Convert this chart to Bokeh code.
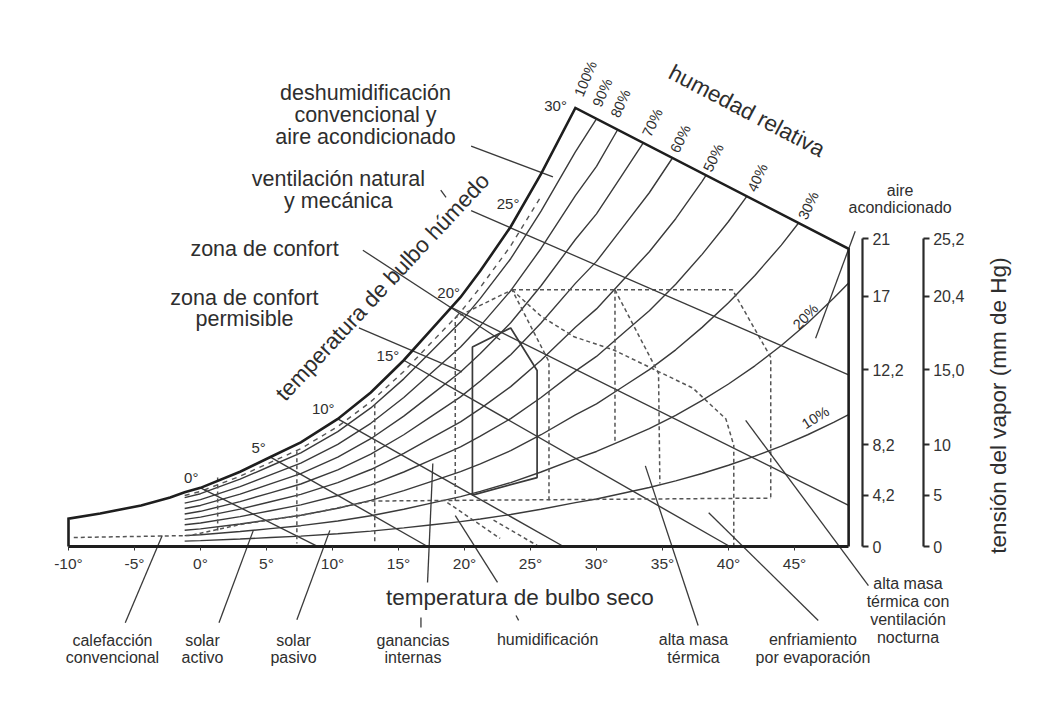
import numpy as np
from bokeh.plotting import figure
from bokeh.models import LinearAxis, FixedTicker, LabelSet, ColumnDataSource, Range1d
from bokeh.core.properties import value
from bokeh.embed import file_html
from bokeh.resources import INLINE

FONT = "Liberation Sans"
INK = "#2e2e2e"
GRID = "#3a3a3a"
DASH = "#555555"

# ---------------- data (dry bulb °C  /  vapour content, chart units) ----------------
sat_t = [-10, -7.6, -4.5, -2.3, -1.2, 0, 3, 5.3, 7.6, 10.4, 12.9, 15.4, 17.4, 19.7, 21.2, 23.5, 25.8, 28.4]
sat_h = [1.9, 2.25, 2.8, 3.34, 3.7, 4.0, 5.1, 6.1, 7.1, 8.7, 10.5, 12.7, 14.7, 17.0, 18.8, 21.8, 25.4, 29.9]
# saturation continued above the chart's upper edge (where the RH curves end on that edge)
sat_ext_t = [30, 32, 34, 36, 38, 40, 42, 44, 46, 48, 50]
sat_ext_h = [32.4, 36.3, 40.2, 44.7, 49.8, 55.4, 61.6, 68.5, 76.2, 84.8, 94.0]
rh_levels = [10, 20, 30, 40, 50, 60, 70, 80, 90]
rh_labels = ["10%", "20%", "30%", "40%", "50%", "60%", "70%", "80%", "90%", "100%"]
rh_start_t = -1.2
near_sat_level = 94
corner_t = 49.1
corner_h = 20.3

# wet-bulb lines (start on saturation curve -> end on chart edge)
wb_names = ["0°", "5°", "10°", "15°", "20°", "25°", "30°"]
wb_start_t = [0.0, 5.3, 10.4, 15.4, 19.0]
wb_start_h = [4.0, 6.1, 8.7, 12.7, 16.3]
wb_end_t = [8.9, 17.2, 27.5, 40.1, 49.1]
wb_end_h = [0.0, 0.0, 0.0, 0.0, 2.8]

# comfort zone (solid)
comfort_t = [20.6, 20.6, 23.5, 25.5, 25.5, 20.6]
comfort_h = [3.5, 13.6, 14.9, 12.0, 4.7, 3.5]

# dashed zone boundaries
perm_t = [19.3, 19.3, 23.6, 26.4, 26.4]
perm_h = [3.1, 15.6, 17.5, 12.6, 3.1]
outer_t = [23.6, 40.3, 43.2, 43.2]
outer_h = [17.5, 17.5, 12.9, 3.3]
lower_t = [-9.6, -0.8, 3.0, 8.1, 12.9, 43.2]
lower_h = [0.61, 0.75, 1.5, 2.2, 3.1, 3.3]
evap_t = [23.6, 25.8, 28.3, 31.3, 34.3, 37.3, 39.8, 40.4, 40.4]
evap_h = [17.5, 15.7, 14.3, 13.4, 12.1, 10.8, 8.7, 6.9, 0.0]
mass_t = [31.4, 34.7, 34.8]
mass_h = [17.5, 11.8, 4.3]
vdash_t = [31.4, 1.3, 7.3, 13.2]
vdash_top = [17.5, 4.7, 6.5, 9.7]
vdash_bot = [7.2, 0.9, 0.2, 0.2]
hum_t0 = [18.7, 22.2]
hum_h0 = [3.0, 1.8]
hum_t1 = [22.7, 25.5]
hum_h1 = [0.55, 0.07]

# leader lines of the annotations
lead_t0 = [20.5, 18.2, 20.5, 12.3, 12.0, 49.6, -5.7, 1.4, 7.3, 17.2, 16.7, 22.5, 23.9, 37.7, 46.8, 50.6]
lead_h0 = [27.3, 24.3, 22.9, 20.2, 14.9, 21.5, -5.2, -5.2, -5.0, -2.45, -4.84, -2.45, -4.7, -5.39, -5.04, -2.66]
lead_t1 = [26.7, 18.6, 49.1, 22.7, 19.8, 46.6, -2.9, 4.0, 9.8, 17.6, 16.7, 19.3, 24.1, 33.7, 38.5, 41.3]
lead_h1 = [25.2, 23.8, 11.7, 14.1, 11.9, 14.2, 0.75, 1.1, 1.1, 5.66, -5.52, 2.1, -5.04, 5.5, 2.3, 8.6]

x_ticks = [-10, -5, 0, 5, 10, 15, 20, 25, 30, 35, 40, 45]
x_tick_labels = ["-10°", "-5°", "0°", "5°", "10°", "15°", "20°", "25°", "30°", "35°", "40°", "45°"]
y_ticks = [0, 3.5, 6.95, 12.05, 17.05, 21]
gkg_labels = ["0", "4,2", "8,2", "12,2", "17", "21"]
mmhg_labels = ["0", "5", "10", "15,0", "20,4", "25,2"]
gkg_axis_t = 50.15
mmhg_axis_t = 54.75

# ---------------- derived curves ----------------
all_t = np.array(sat_t + sat_ext_t, dtype=float)
all_h = np.array(sat_h + sat_ext_h, dtype=float)
keep = all_t >= rh_start_t
ct, ch = all_t[keep], all_h[keep]
top_t0, top_h0 = sat_t[-1], sat_h[-1]


def top_edge(t):
    return top_h0 + (t - top_t0) * (corner_h - top_h0) / (corner_t - top_t0)


def rh_curve(frac, t_max=None):
    xs, ys = [ct[0]], [frac * ch[0]]
    for i in range(1, len(ct)):
        t0, t1 = ct[i - 1], ct[i]
        h0, h1 = frac * ch[i - 1], frac * ch[i]
        if t_max is not None and t1 > t_max:
            break
        if t1 >= top_t0 and h1 > top_edge(t1):
            d0, d1 = h0 - top_edge(t0), h1 - top_edge(t1)
            s = d0 / (d0 - d1)
            xs.append(t0 + s * (t1 - t0)); ys.append(h0 + s * (h1 - h0))
            return xs, ys
        if t1 > corner_t:
            s = (corner_t - t0) / (t1 - t0)
            xs.append(corner_t); ys.append(h0 + s * (h1 - h0))
            return xs, ys
        xs.append(t1); ys.append(h1)
    return xs, ys


rh_xs, rh_ys = [], []
for r in rh_levels:
    a, b = rh_curve(r / 100.0)
    rh_xs.append(a); rh_ys.append(b)
ns_x, ns_y = rh_curve(near_sat_level / 100.0, t_max=26.0)

# ---------------- figure ----------------
p = figure(width=1037, height=687,
           x_range=Range1d(-15.152, 63.409), y_range=Range1d(-9.613, 37.227),
           output_backend="svg", toolbar_location=None, y_axis_location=None,
           min_border=0)
p.outline_line_color = None
p.xgrid.visible = False
p.ygrid.visible = False
p.background_fill_color = "white"

# RH curves and near-saturation dashed curve
p.multi_line(rh_xs, rh_ys, line_color=GRID, line_width=1.4)
p.line(ns_x, ns_y, line_color=DASH, line_width=1.4, line_dash="5 5")

# wet bulb lines
p.segment(wb_start_t, wb_start_h, wb_end_t, wb_end_h, line_color=GRID, line_width=1.4)

# zones
p.line(comfort_t, comfort_h, line_color=GRID, line_width=1.7)
dash_x = [perm_t, outer_t, lower_t, evap_t, mass_t]
dash_y = [perm_h, outer_h, lower_h, evap_h, mass_h]
p.multi_line(dash_x, dash_y, line_color=DASH, line_width=1.5, line_dash="4 3")
p.segment(vdash_t, vdash_top, vdash_t, vdash_bot, line_color=DASH, line_width=1.5, line_dash="4 3")
p.segment(hum_t0, hum_h0, hum_t1, hum_h1, line_color=DASH, line_width=1.5, line_dash="4 3")

# leader lines
p.segment(lead_t0, lead_h0, lead_t1, lead_h1, line_color=GRID, line_width=1.3)

# chart boundary (saturation curve, top edge, right edge)
bnd_t = [-10.0] + sat_t + [corner_t, corner_t]
bnd_h = [0.0] + sat_h + [corner_h, 0.0]
p.line(bnd_t, bnd_h, line_color="#1e1e1e", line_width=2.6, line_join="miter")

# ---------------- axes ----------------
xa = p.xaxis[0]
xa.fixed_location = 0
xa.bounds = (-10, corner_t)
xa.ticker = FixedTicker(ticks=x_ticks)
xa.major_label_overrides = {t: s for t, s in zip(x_ticks, x_tick_labels)}
xa.axis_line_width = 2.8
xa.axis_line_color = "#1e1e1e"
xa.major_tick_in = 0
xa.major_tick_out = 4
xa.minor_tick_line_color = None
xa.major_tick_line_color = "#333333"
xa.major_label_standoff = 4
xa.major_label_text_font = FONT
xa.major_label_text_font_size = "15.5px"
xa.major_label_text_color = "#333333"


def right_axis(labels, loc):
    ax = LinearAxis(ticker=FixedTicker(ticks=y_ticks), bounds=(0, 21), fixed_location=loc)
    ax.major_label_overrides = {t: s for t, s in zip(y_ticks, labels)}
    ax.axis_line_width = 2.2
    ax.axis_line_color = "#2a2a2a"
    ax.major_tick_in = 0
    ax.major_tick_out = 6
    ax.major_tick_line_width = 2
    ax.major_tick_line_color = "#2a2a2a"
    ax.minor_tick_line_color = None
    ax.major_label_standoff = 4
    ax.major_label_text_font = FONT
    ax.major_label_text_font_size = "16px"
    ax.major_label_text_color = "#333333"
    return ax


p.add_layout(right_axis(gkg_labels, gkg_axis_t), "right")
p.add_layout(right_axis(mmhg_labels, mmhg_axis_t), "right")


# ---------------- texts ----------------
def add_labels(texts, xs, ys, size, angles_deg=None, color=INK):
    if angles_deg is None:
        angles_deg = [0] * len(texts)
    src = ColumnDataSource(dict(x=xs, y=ys, text=texts, angle=list(np.radians(angles_deg))))
    p.add_layout(LabelSet(x="x", y="y", text="text", angle="angle", source=src,
                          text_font=value(FONT), text_font_size=size, text_color=color,
                          text_align="center", text_baseline="middle"))


# zone names on the left
add_labels(["deshumidificación", "convencional y", "aire acondicionado",
            "ventilación natural", "y mecánica", "zona de confort",
            "zona de confort", "permisible"],
           [12.5, 12.5, 12.5, 10.45, 10.45, 4.85, 3.33, 3.33],
           [30.95, 29.45, 27.95, 25.09, 23.59, 20.31, 16.97, 15.54], "21.5px")

# axis titles
add_labels(["temperatura de bulbo húmedo", "humedad relativa", "temperatura de bulbo seco",
            "tensión del vapor (mm de Hg)"],
           [13.8, 41.4, 24.2, 60.45], [17.7, 29.7, -3.48, 9.61], "22.5px",
           angles_deg=[47, -27.6, 0, 90])

# relative humidity labels
add_labels(rh_labels,
           [46.59, 45.83, 46.06, 42.2, 38.86, 36.36, 34.24, 31.82, 30.45, 29.17],
           [8.79, 15.68, 23.25, 25.15, 26.5, 27.8, 28.9, 30.2, 30.95, 31.9], "14.5px",
           angles_deg=[32, 46, 65, 65, 65, 65, 65, 66, 67, 67])

# wet bulb temperature labels
add_labels(wb_names, [-0.7, 4.4, 9.3, 14.2, 18.8, 23.3, 26.9],
           [4.7, 6.75, 9.4, 13.0, 17.3, 23.4, 30.06], "15px")

# strategy names around the chart
add_labels(["aire", "acondicionado",
            "calefacción", "convencional", "solar", "activo", "solar", "pasivo",
            "ganancias", "internas", "humidificación", "alta masa", "térmica",
            "enfriamiento", "por evaporación",
            "alta masa", "térmica con", "ventilación", "nocturna"],
           [53.0, 53.0, -6.67, -6.67, 0.15, 0.15, 7.05, 7.05, 16.1, 16.1, 26.3,
            37.35, 37.35, 46.4, 46.4, 53.6, 53.6, 53.6, 53.6],
           [24.3, 23.1, -6.41, -7.57, -6.41, -7.57, -6.41, -7.57, -6.41, -7.57, -6.34,
            -6.34, -7.57, -6.34, -7.57, -2.52, -3.75, -4.98, -6.2], "16px")

open("out.html", "w").write(file_html(p, INLINE))
